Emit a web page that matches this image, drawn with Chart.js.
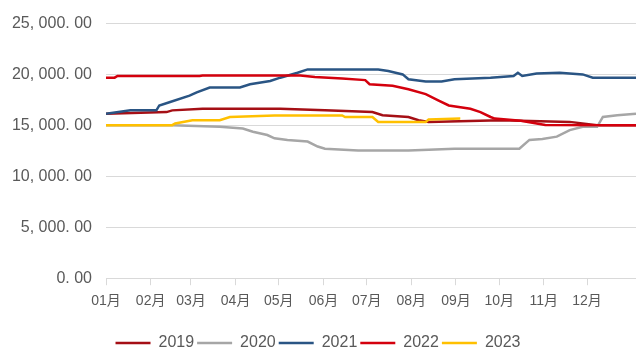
<!DOCTYPE html>
<html>
<head>
<meta charset="utf-8">
<script src="https://cdn.jsdelivr.net/npm/chart.js@4"></script>
<style>
  html, body { margin: 0; padding: 0; background: #fff; }
  #wrap { width: 636px; height: 349px; }
</style>
</head>
<body>
<div id="wrap"><canvas id="priceChart"></canvas></div>
<script>
// 月份刻度（按一年中的第几天）
const monthStarts = [0, 31, 59, 90, 120, 151, 181, 212, 243, 273, 304, 334];
const monthLabels = ['01月', '02月', '03月', '04月', '05月', '06月', '07月', '08月', '09月', '10月', '11月', '12月'];
const yTicks = [0, 5000, 10000, 15000, 20000, 25000];

const years = ['2019', '2020', '2021', '2022', '2023'];
const colors = ['#A50F15', '#A6A6A6', '#2A5584', '#D4000D', '#FFC000'];

const days2019 = [0, 42, 46, 67, 121, 152, 185, 192, 210, 217, 224, 274, 322, 341, 368];
const price2019 = [16150, 16310, 16480, 16630, 16630, 16480, 16310, 16000, 15830, 15510, 15350, 15510, 15350, 15030, 15030];

const days2020 = [0, 46, 79, 95, 102, 112, 117, 126, 140, 147, 152, 175, 210, 224, 242, 287, 294, 303, 313, 322, 331, 341, 345, 355, 368];
const price2020 = [15030, 15030, 14870, 14700, 14380, 14060, 13740, 13580, 13420, 12930, 12710, 12550, 12550, 12620, 12710, 12710, 13580, 13680, 13900, 14540, 14870, 14870, 15830, 16000, 16150];

const days2021 = [0, 17, 35, 37, 44, 58, 63, 72, 93, 100, 114, 121, 133, 140, 189, 196, 206, 210, 222, 233, 242, 267, 283, 286, 289, 299, 315, 331, 338, 368];
const price2021 = [16150, 16480, 16480, 16960, 17280, 17920, 18240, 18720, 18720, 19050, 19370, 19690, 20170, 20500, 20500, 20340, 20010, 19530, 19310, 19310, 19530, 19690, 19860, 20170, 19860, 20110, 20170, 20010, 19690, 19690];

const days2022 = [0, 6, 8, 65, 67, 135, 145, 164, 180, 183, 199, 210, 222, 231, 238, 253, 260, 267, 270, 288, 305, 368];
const price2022 = [19690, 19690, 19860, 19860, 19910, 19910, 19750, 19600, 19450, 19050, 18890, 18560, 18080, 17440, 16960, 16630, 16310, 15830, 15670, 15450, 15050, 15030];

const days2023 = [0, 46, 48, 60, 79, 86, 117, 164, 166, 185, 189, 222, 224, 246];
const price2023 = [15030, 15030, 15190, 15510, 15510, 15830, 15980, 15980, 15830, 15830, 15350, 15350, 15590, 15670];

const allDays = [days2019, days2020, days2021, days2022, days2023];
const allPrices = [price2019, price2020, price2021, price2022, price2023];

const FONT = '"Liberation Sans", "Noto Sans CJK SC", sans-serif';

function fmt(v) {
  // 千分位加两位小数，形如 25, 000. 00
  return v.toLocaleString('en-US', { minimumFractionDigits: 2, maximumFractionDigits: 2 })
    .replace(',', ', ').replace('.', '. ');
}

const datasets = years.map((y, i) => ({
  label: y,
  data: allDays[i].map((d, k) => ({ x: d, y: allPrices[i][k] })),
  borderColor: colors[i],
  backgroundColor: colors[i],
  borderWidth: 2.5,
  pointRadius: 0,
  tension: 0,
  order: years.length - 1 - i
}));

new Chart(document.getElementById('priceChart'), {
  type: 'line',
  data: { datasets },
  options: {
    responsive: true,
    maintainAspectRatio: false,
    animation: false,
    layout: { padding: { top: 10, left: 0, right: 0, bottom: -12 } },
    scales: {
      x: {
        type: 'linear',
        min: 0,
        max: 368,
        afterBuildTicks: (scale) => {
          scale.ticks = monthStarts.map(v => ({ value: v }));
        },
        afterFit: (scale) => { scale.height += 14; },
        ticks: {
          autoSkip: false,
          maxRotation: 0,
          padding: 8,
          color: '#595959',
          font: { family: FONT, size: 14 },
          callback: (v) => monthLabels[monthStarts.indexOf(v)]
        },
        grid: { drawOnChartArea: false, drawTicks: true, tickLength: 7, color: '#D9D9D9' },
        border: { display: true, color: '#D9D9D9' }
      },
      y: {
        min: 0,
        max: 25000,
        afterBuildTicks: (scale) => {
          scale.ticks = yTicks.map(v => ({ value: v }));
        },
        afterFit: (scale) => { scale.width = 106; },
        ticks: {
          padding: 14,
          color: '#595959',
          font: { family: FONT, size: 16 },
          callback: (v) => fmt(v)
        },
        grid: { drawTicks: false, color: '#D9D9D9' },
        border: { display: false }
      }
    },
    plugins: {
      legend: {
        position: 'bottom',
        labels: {
          usePointStyle: true,
          pointStyle: 'line',
          pointStyleWidth: 35,
          padding: 3,
          color: '#595959',
          font: { family: FONT, size: 16 },
          sort: (a, b) => a.datasetIndex - b.datasetIndex
        }
      },
      tooltip: { enabled: false }
    }
  }
});
</script>
</body>
</html>
